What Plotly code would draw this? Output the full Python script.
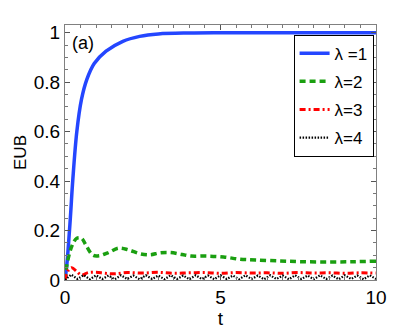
import plotly.graph_objects as go

# lambda = 1
t_blue = [0, 0.06, 0.17, 0.25, 0.38, 0.53, 0.7, 0.94, 1.32, 1.86, 2.4, 3.0, 4.0, 5.0, 7.0, 10.0]
eub_blue = [0, 0.063, 0.247, 0.404, 0.6, 0.73, 0.81, 0.875, 0.925, 0.965, 0.985, 0.995, 0.999, 1.0, 1.0, 1.0]

# lambda = 2
t_green = [0, 0.06, 0.22, 0.38, 0.53, 0.69, 0.9, 1.1, 1.38, 1.73, 2.04, 2.42, 2.74, 3.05, 3.4,
           3.77, 4.05, 4.56, 5.1, 5.63, 6.13, 6.9, 7.6, 8.5, 9.3, 10]
eub_green = [0, 0.06, 0.137, 0.169, 0.169, 0.137, 0.10, 0.098, 0.11, 0.129, 0.122, 0.106, 0.102, 0.11, 0.111,
             0.103, 0.097, 0.097, 0.093, 0.084, 0.081, 0.077, 0.074, 0.073, 0.074, 0.076]

# lambda = 3
t_red = [0, 0.1, 0.22, 0.38, 0.53, 0.75, 1.0, 1.3, 1.6, 2.0, 2.5, 3.0, 3.5, 4.0, 4.5, 5.0,
         5.5, 6.0, 6.5, 7.0, 7.5, 8.0, 8.5, 9.0, 9.5, 10]
eub_red = [0, 0.038, 0.05, 0.034, 0.02, 0.03, 0.031, 0.027, 0.025, 0.03, 0.028, 0.031, 0.027, 0.029, 0.03, 0.027,
           0.03, 0.028, 0.029, 0.027, 0.03, 0.028, 0.029, 0.027, 0.029, 0.028]

# lambda = 4
t_black = [0, 0.2, 0.4, 0.6, 0.8, 1.0, 1.2, 1.4, 1.6, 1.8, 2.0, 2.2, 2.4, 2.6, 2.8, 3.0, 3.2, 3.4,
           3.6, 3.8, 4.0, 4.2, 4.4, 4.6, 4.8, 5.0, 5.2, 5.4, 5.6, 5.8, 6.0, 6.2, 6.4, 6.6, 6.8,
           7.0, 7.2, 7.4, 7.6, 7.8, 8.0, 8.2, 8.4, 8.6, 8.8, 9.0, 9.2, 9.4, 9.6, 9.8, 10.0]
eub_black = [0, 0.022, 0.004, 0.02, 0.003, 0.019, 0.004, 0.018, 0.003, 0.019, 0.004, 0.018, 0.003, 0.019,
             0.004, 0.018, 0.003, 0.019, 0.004, 0.018, 0.003, 0.019, 0.004, 0.018, 0.003, 0.019, 0.004,
             0.018, 0.003, 0.019, 0.004, 0.018, 0.003, 0.019, 0.004, 0.018, 0.003, 0.019, 0.004, 0.018,
             0.003, 0.019, 0.004, 0.018, 0.003, 0.019, 0.004, 0.018, 0.003, 0.019, 0.004]

font = "Liberation Sans, Arial, sans-serif"

fig = go.Figure()
fig.add_trace(go.Scatter(x=t_blue, y=eub_blue, mode="lines", name="\u03bb =1", line_shape="spline",
                         legendgroup="l1", line=dict(color="#2446ff", width=3.5)))
fig.add_trace(go.Scatter(x=t_green, y=eub_green, mode="lines", name="\u03bb=2", line_shape="spline",
                         legendgroup="l2", line=dict(color="#1a9f10", width=3.5, dash="6px,4px")))
fig.add_trace(go.Scatter(x=t_red, y=eub_red, mode="lines", name="\u03bb=3", line_shape="spline",
                         legendgroup="l3", line=dict(color="#ff0000", width=3, dash="6px,3px,2px,3px")))
fig.add_trace(go.Scatter(x=t_black, y=eub_black, mode="lines", name="\u03bb=4",
                         legendgroup="l4", line=dict(color="black", width=2.2, dash="1.5px,1.5px")))

axis_style = dict(showline=True, linecolor="#808080", linewidth=1, mirror="ticks",
                  ticks="inside", ticklen=5, tickcolor="#555555", showgrid=False, zeroline=False,
                  tickfont=dict(size=19, color="black", family=font))

fig.update_xaxes(range=[0, 10], tickvals=[0, 5, 10], ticktext=["0", "5", "10"],
                 minor=dict(dtick=0.5, ticks="inside", ticklen=3, tickcolor="#777777"),
                 title=dict(text="t", font=dict(size=19, color="black", family=font), standoff=0),
                 **axis_style)
fig.update_yaxes(range=[0, 1.031], tickvals=[0, 0.2, 0.4, 0.6, 0.8, 1],
                 ticktext=["0", "0.2", "0.4", "0.6", "0.8", "1"],
                 minor=dict(dtick=0.05, ticks="inside", ticklen=3, tickcolor="#777777"),
                 title=dict(text="EUB", font=dict(size=17, color="black", family=font), standoff=2),
                 **axis_style)

fig.add_annotation(text="(a)", xref="paper", yref="paper", x=0.015, y=0.93,
                   xanchor="left", yanchor="middle", showarrow=False,
                   font=dict(size=18, color="black", family=font))

# the page body adds an 8px margin, so the figure is 8px smaller than the window
fig.update_layout(
    width=407, height=325,
    margin=dict(l=49, r=39, t=17, b=45),
    paper_bgcolor="white", plot_bgcolor="white",
    font=dict(family=font, color="black"),
    showlegend=True,
    legend=dict(x=0.735, y=0.962, xanchor="left", yanchor="top",
                bordercolor="black", borderwidth=1, bgcolor="white",
                font=dict(size=17, color="black", family=font),
                itemwidth=30, tracegroupgap=3),
)

fig.write_html("out.html")
